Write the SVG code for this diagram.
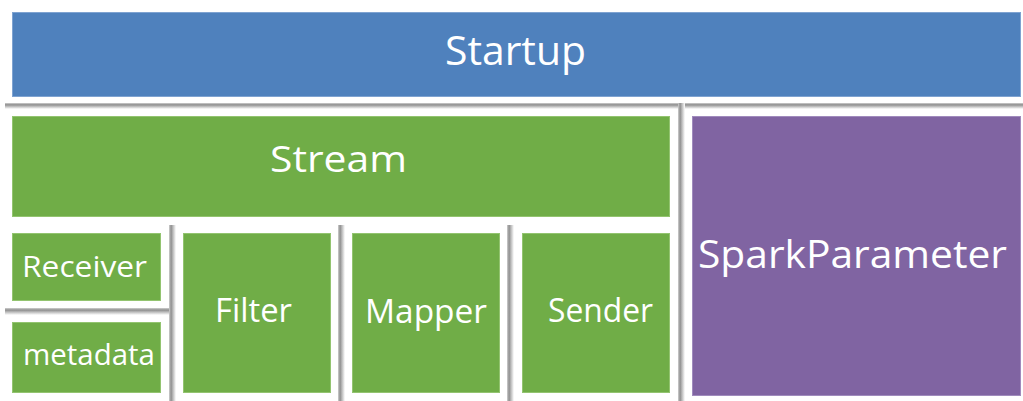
<svg xmlns="http://www.w3.org/2000/svg" width="1023" height="401" viewBox="0 0 1023 401">
<style>
.blue{fill:#4f81bd;stroke:#7fa3d1;stroke-width:1}
.green{fill:#70ad47;stroke:#93c470;stroke-width:1}
.purple{fill:#8064a2;stroke:#a08bbd;stroke-width:1}
.lbl{fill:#ffffff;font-family:"Open Sans","Liberation Sans",sans-serif}
</style>
<defs>
<linearGradient id="vsh" x1="0" y1="0" x2="1" y2="0">
<stop offset="0" stop-color="#d0d0d0"/>
<stop offset="0.3" stop-color="#8e8e8e"/>
<stop offset="0.55" stop-color="#b8b8b8"/>
<stop offset="1" stop-color="#ffffff"/>
</linearGradient>
<linearGradient id="hsh" x1="0" y1="0" x2="0" y2="1">
<stop offset="0" stop-color="#d0d0d0"/>
<stop offset="0.3" stop-color="#8e8e8e"/>
<stop offset="0.55" stop-color="#b8b8b8"/>
<stop offset="1" stop-color="#ffffff"/>
</linearGradient>
</defs>
<rect width="1023" height="401" fill="#ffffff"/>
<g id="separators">
<rect x="5" y="103" width="1018" height="6" fill="url(#hsh)"/>
<rect x="678" y="103" width="7" height="298" fill="url(#vsh)"/>
<rect x="5" y="308" width="165" height="7" fill="url(#hsh)"/>
<rect x="169" y="225" width="7" height="176" fill="url(#vsh)"/>
<rect x="338" y="225" width="7" height="176" fill="url(#vsh)"/>
<rect x="507" y="225" width="7" height="176" fill="url(#vsh)"/>
</g>
<g id="startup">
<rect class="blue" x="12.5" y="12.5" width="1008" height="84"/>
<text class="lbl" x="445" y="65" font-size="40" textLength="141" lengthAdjust="spacingAndGlyphs">Startup</text>
</g>
<g id="stream">
<rect class="green" x="12.5" y="116.5" width="657" height="100"/>
<text class="lbl" x="270" y="172" font-size="36" textLength="137" lengthAdjust="spacingAndGlyphs">Stream</text>
</g>
<g id="receiver">
<rect class="green" x="12.5" y="233.5" width="148" height="67"/>
<text class="lbl" x="22" y="277" font-size="30" textLength="125" lengthAdjust="spacingAndGlyphs">Receiver</text>
</g>
<g id="metadata">
<rect class="green" x="12.5" y="322.5" width="148" height="70"/>
<text class="lbl" x="23" y="365" font-size="29" textLength="132" lengthAdjust="spacingAndGlyphs">metadata</text>
</g>
<g id="filter">
<rect class="green" x="183.5" y="233.5" width="147" height="159"/>
<text class="lbl" x="215" y="322" font-size="33" textLength="77" lengthAdjust="spacingAndGlyphs">Filter</text>
</g>
<g id="mapper">
<rect class="green" x="352.5" y="233.5" width="147" height="159"/>
<text class="lbl" x="365" y="323" font-size="33" textLength="122" lengthAdjust="spacingAndGlyphs">Mapper</text>
</g>
<g id="sender">
<rect class="green" x="522.5" y="233.5" width="147" height="159"/>
<text class="lbl" x="548" y="322" font-size="33" textLength="105" lengthAdjust="spacingAndGlyphs">Sender</text>
</g>
<g id="sparkparameter">
<rect class="purple" x="692.5" y="116.5" width="328" height="279"/>
<text class="lbl" x="698" y="267.5" font-size="38" textLength="309" lengthAdjust="spacingAndGlyphs">SparkParameter</text>
</g>
</svg>
